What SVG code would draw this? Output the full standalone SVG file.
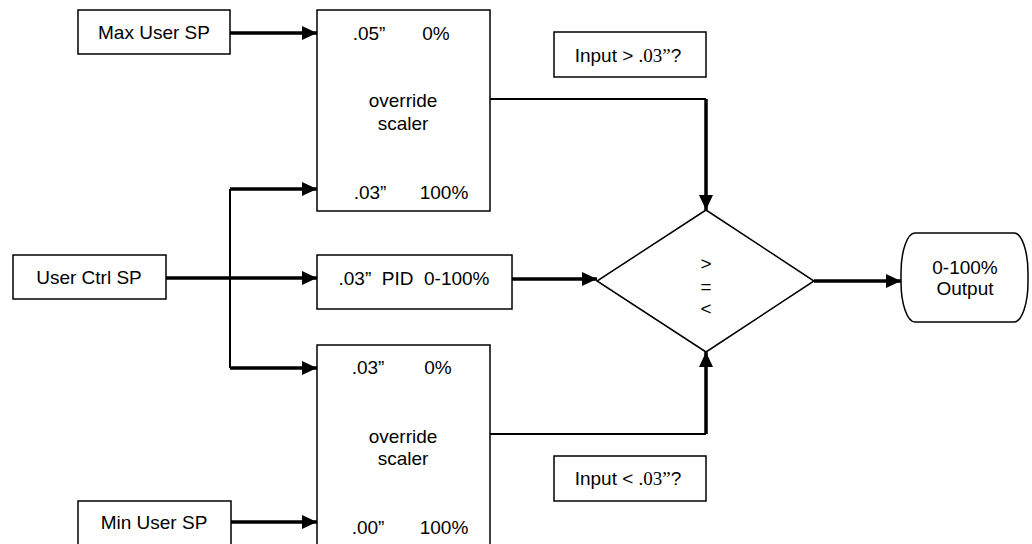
<svg xmlns="http://www.w3.org/2000/svg" width="1032" height="544" viewBox="0 0 1032 544">
<defs>
<marker id="ah" markerUnits="userSpaceOnUse" markerWidth="16" markerHeight="16" viewBox="0 0 16 16" refX="15" refY="8" orient="auto">
<path d="M0,1 L15,8 L0,15 Z" fill="#000"/>
</marker>
</defs>
<style>
.box{fill:#fff;stroke:#000;stroke-width:1.5}
.t{font-family:"Liberation Sans",Arial,sans-serif;font-size:19px;fill:#000;text-anchor:middle}
.tm{font-family:"Liberation Serif","Times New Roman",serif}
.thick{fill:none;stroke:#000;stroke-width:3.5}
.thin{fill:none;stroke:#000;stroke-width:2}
</style>
<rect width="1032" height="544" fill="#fff"/>
<g id="connectors">
<path class="thick" d="M230,33 H317" marker-end="url(#ah)"/>
<path class="thick" d="M166,278 H317" marker-end="url(#ah)"/>
<path class="thin" d="M230,189 V368"/>
<path class="thick" d="M230,189 H317" marker-end="url(#ah)"/>
<path class="thick" d="M230,368 H317" marker-end="url(#ah)"/>
<path class="thick" d="M231,522 H317" marker-end="url(#ah)"/>
<path class="thick" d="M512,279 H597" marker-end="url(#ah)"/>
<path class="thin" d="M490,99 H706"/>
<path class="thick" d="M706,99 V210" marker-end="url(#ah)"/>
<path class="thin" d="M490,434 H706"/>
<path class="thick" d="M706,434 V352" marker-end="url(#ah)"/>
<path class="thick" d="M814,281 H901" marker-end="url(#ah)"/>
</g>
<g id="max-user-sp">
<rect class="box" x="78" y="10" width="152" height="44"/>
<text class="t" x="154" y="39">Max User SP</text>
</g>
<g id="user-ctrl-sp">
<rect class="box" x="13" y="255" width="153" height="44"/>
<text class="t" x="89" y="284">User Ctrl SP</text>
</g>
<g id="min-user-sp">
<rect class="box" x="78" y="501" width="153" height="50"/>
<text class="t" x="154" y="529">Min User SP</text>
</g>
<g id="scaler-top">
<rect class="box" x="317" y="10" width="173" height="201"/>
<text class="t" x="369" y="40">.05”</text>
<text class="t" x="436" y="40">0%</text>
<text class="t" x="403" y="107">override</text>
<text class="t" x="403" y="130">scaler</text>
<text class="t" x="370" y="199">.03”</text>
<text class="t" x="444" y="199">100%</text>
</g>
<g id="pid">
<rect class="box" x="317" y="255" width="195" height="54"/>
<text class="t" x="414" y="285" xml:space="preserve">.03”  PID  0-100%</text>
</g>
<g id="scaler-bottom">
<rect class="box" x="317" y="345" width="173" height="210"/>
<text class="t" x="368" y="374">.03”</text>
<text class="t" x="438" y="374">0%</text>
<text class="t" x="403" y="443">override</text>
<text class="t" x="403" y="465">scaler</text>
<text class="t" x="368" y="534">.00”</text>
<text class="t" x="444" y="534">100%</text>
</g>
<g id="input-gt">
<rect class="box" x="554" y="32" width="152" height="45"/>
<text class="t" x="628" y="62">Input &gt; <tspan class="tm">.03”</tspan>?</text>
</g>
<g id="input-lt">
<rect class="box" x="554" y="456" width="152" height="45"/>
<text class="t" x="628" y="485">Input &lt; <tspan class="tm">.03”</tspan>?</text>
</g>
<g id="compare">
<polygon class="box" points="706,210 814,281 706,352 597,281"/>
<text class="t" x="706" y="270">&gt;</text>
<text class="t" x="706" y="293">=</text>
<text class="t" x="706" y="315">&lt;</text>
</g>
<g id="output">
<rect class="box" x="901" y="233" width="127" height="89" rx="14" ry="40"/>
<text class="t" x="965" y="274">0-100%</text>
<text class="t" x="965" y="295">Output</text>
</g>
</svg>
